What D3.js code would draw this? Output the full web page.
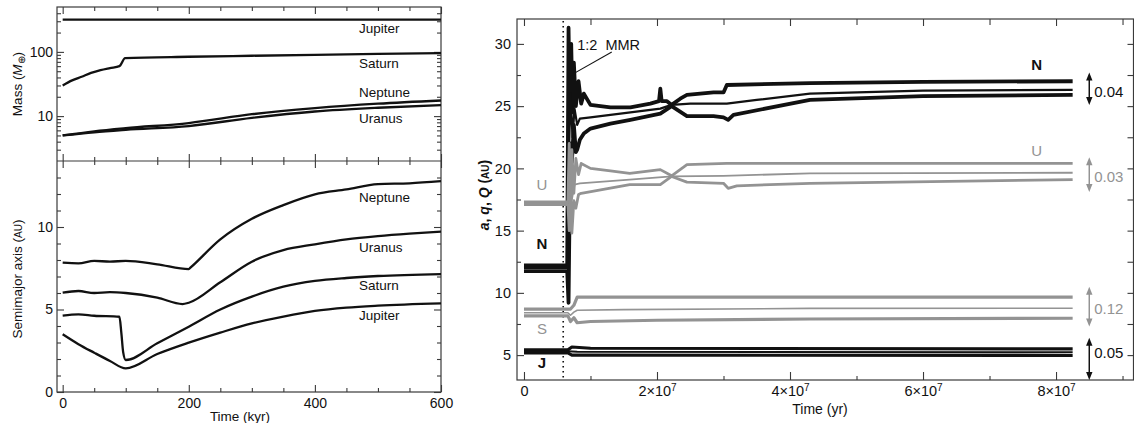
<!DOCTYPE html>
<html>
<head>
<meta charset="utf-8">
<script src="https://cdn.jsdelivr.net/npm/d3@7"></script>
<style>
  body { margin: 0; background: #fff; }
  svg { display: block; font-family: 'Liberation Sans', Arial, Helvetica, sans-serif; }
</style>
</head>
<body>
<svg id="fig" width="1134" height="423"></svg>
<script>
// ---------- left panels: time (kyr) ----------
// mass (Earth masses), log scale
const massJupiter = [[0, 318], [600, 318]];
const massSaturn = [[0, 30], [15, 36], [30, 41], [45, 47], [60, 52], [75, 56], [90, 60], [99, 80], [200, 84], [300, 87], [400, 90], [500, 93], [600, 96]];
const massNeptune = [[0, 5.0], [50, 5.8], [100, 6.5], [200, 7.8], [300, 10.7], [400, 13.3], [500, 15.6], [600, 17.5]];
const massUranus = [[0, 5.0], [50, 5.6], [100, 6.1], [200, 7.0], [300, 9.4], [400, 11.8], [500, 13.5], [600, 14.8]];

// semimajor axis (AU)
const semiNeptune = [[0, 7.84], [25, 7.8], [50, 7.95], [75, 7.9], [100, 7.95], [150, 7.74], [200, 7.45], [203, 7.55], [250, 9.25], [300, 10.5], [350, 11.33], [400, 11.98], [450, 12.28], [500, 12.6], [550, 12.65], [600, 12.78]];
const semiUranus = [[0, 6.02], [25, 6.12], [50, 6.0], [75, 6.05], [100, 6.0], [150, 5.72], [190, 5.33], [200, 5.41], [250, 6.65], [300, 7.9], [350, 8.6], [400, 8.95], [450, 9.25], [500, 9.45], [550, 9.6], [600, 9.72]];
const semiSaturn = [[0, 4.63], [25, 4.7], [50, 4.62], [90, 4.56], [93, 3.6], [96, 2.4], [100, 1.94], [150, 2.95], [200, 3.96], [250, 5.0], [300, 5.78], [350, 6.38], [400, 6.73], [450, 6.91], [500, 7.03], [600, 7.15]];
const semiJupiter = [[0, 3.5], [25, 2.9], [50, 2.38], [75, 1.88], [100, 1.43], [150, 2.3], [200, 2.99], [250, 3.6], [300, 4.16], [350, 4.57], [400, 4.91], [450, 5.11], [500, 5.23], [600, 5.37]];

const massLabels = [["Jupiter", 198], ["Saturn", 56], ["Neptune", 19.8], ["Uranus", 7.8]];
const semiLabels = [["Neptune", 11.53], ["Uranus", 8.5], ["Saturn", 6.18], ["Jupiter", 4.36]];

// ---------- right panel: time in units of 1e7 yr, a / q / Q (AU) ----------
const nQ = [[0, 12.2], [0.65, 12.2], [0.67, 31.3], [0.69, 24], [0.71, 30], [0.73, 24.5], [0.75, 28.5], [0.78, 25], [0.82, 27], [0.86, 25.2], [0.9, 26], [1.0, 25.1], [1.3, 24.9], [1.6, 24.9], [1.9, 25.2], [2.03, 25.4], [2.05, 26.4], [2.07, 25.4], [2.15, 25.4], [2.22, 25.1], [2.35, 25.6], [2.45, 25.9], [2.85, 26.1], [3.0, 26.1], [3.05, 26.7], [4.3, 26.85], [6.0, 26.95], [8.25, 27.0]];
const nA = [[0, 12.0], [0.65, 12.0], [0.67, 20], [0.7, 26], [0.73, 22.5], [0.76, 24.8], [0.8, 23.5], [0.84, 24.0], [1.0, 24.1], [1.6, 24.5], [2.05, 24.8], [2.22, 25.1], [2.5, 25.2], [3.05, 25.2], [3.5, 25.5], [4.3, 26.0], [6.0, 26.25], [8.25, 26.3]];
const nq = [[0, 11.75], [0.65, 11.75], [0.67, 9.2], [0.68, 14], [0.7, 22], [0.72, 20.5], [0.75, 23.5], [0.78, 21.3], [0.8, 21.5], [0.84, 22.3], [0.9, 22.8], [1.0, 23.2], [1.3, 23.6], [1.6, 23.9], [2.05, 24.4], [2.22, 25.0], [2.45, 24.2], [2.85, 24.2], [3.0, 24.1], [3.07, 23.9], [3.15, 24.3], [4.3, 25.5], [6.0, 25.8], [8.25, 25.9]];

const uQ = [[0, 17.3], [0.66, 17.3], [0.68, 22], [0.7, 16.5], [0.72, 21.5], [0.75, 18], [0.78, 20.8], [0.82, 19.5], [0.86, 20.4], [1.0, 20.0], [1.3, 19.8], [1.59, 19.6], [2.05, 19.9], [2.22, 19.4], [2.45, 20.3], [3.05, 20.4], [4.3, 20.4], [8.25, 20.4]];
const uA = [[0, 17.2], [0.66, 17.2], [0.69, 19.5], [0.72, 17.5], [0.76, 18.7], [0.84, 18.8], [1.59, 19.1], [2.22, 19.35], [3.0, 19.4], [4.3, 19.6], [8.25, 19.65]];
const uq = [[0, 17.1], [0.66, 17.1], [0.68, 15], [0.7, 18.5], [0.72, 14.8], [0.75, 17.4], [0.78, 16.8], [0.82, 17.9], [0.86, 18.0], [1.59, 18.7], [2.05, 18.7], [2.22, 19.35], [2.45, 18.9], [3.0, 18.8], [3.07, 18.4], [3.2, 18.6], [4.3, 18.8], [8.25, 19.1]];

const sQ = [[0, 8.7], [0.66, 8.7], [0.7, 8.7], [0.75, 9.0], [0.8, 9.65], [1.2, 9.65], [4.0, 9.65], [8.25, 9.65]];
const sA = [[0, 8.4], [0.66, 8.4], [0.7, 8.2], [0.75, 8.45], [0.8, 8.6], [1.5, 8.65], [4.3, 8.75], [8.25, 8.76]];
const sq = [[0, 8.15], [0.66, 8.15], [0.7, 7.7], [0.75, 8.0], [0.8, 7.6], [1.0, 7.7], [2.0, 7.8], [4.3, 7.9], [8.25, 7.96]];

const jQ = [[0, 5.42], [0.66, 5.42], [0.72, 5.65], [1.0, 5.55], [8.25, 5.5]];
const jA = [[0, 5.3], [0.66, 5.3], [0.8, 5.27], [8.25, 5.22]];
const jq = [[0, 5.18], [0.66, 5.18], [0.72, 5.0], [1.0, 5.0], [8.25, 4.97]];

const mmrTime = 0.59;
// eccentricity range arrows: [label, low, high, text centre, grey?]
const eccArrows = [["0.04", 25.1, 27.7, 26.2, false], ["0.03", 18.1, 20.9, 19.3, true], ["0.12", 7.3, 10.5, 8.7, true], ["0.05", 3.0, 6.4, 5.2, false]];
// planet letters: [text, t, value, grey?]
const planetLetters = [["N", 7.71, 27.9, false], ["U", 7.71, 21.0, true], ["U", 0.27, 18.3, true], ["N", 0.27, 13.5, false], ["S", 0.27, 6.7, true], ["J", 0.27, 4.0, false]];

const ink = "#111", grey = "#939393", frame = "#3a3a3a";
const svg = d3.select("#fig");
svg.append("rect").attr("width", 1134).attr("height", 423).attr("fill", "#fff");

function ticks(g, gen, scale, vals, len, fmt, pad, fs) {
  const a = gen(scale).tickValues(vals).tickSize(-len).tickPadding(pad || 3).tickFormat(fmt || (() => ""));
  g.call(a);
  g.select(".domain").remove();
  g.attr("font-family", null).attr("font-size", fs || 13);
  g.selectAll("line").attr("stroke", frame).attr("stroke-width", 1.1);
  g.selectAll("text").attr("fill", ink);
  return g;
}

// ================= left figure =================
const xL = d3.scaleLinear().domain([-9, 600]).range([57, 441]);
const yMass = d3.scaleLog().domain([2, 500]).range([161, 7]);
const ySemi = d3.scaleLinear().domain([0, 14]).range([392, 161]);

const left = svg.append("g");
const xMinor = d3.range(50, 600, 50).filter(d => d % 200 !== 0);
const xMajor = [0, 200, 400, 600];

[[7, d3.axisTop], [161, d3.axisBottom], [161, d3.axisTop], [392, d3.axisBottom]].forEach(([y, gen]) => {
  ticks(left.append("g").attr("transform", `translate(0,${y})`), gen, xL, xMinor, 4);
  ticks(left.append("g").attr("transform", `translate(0,${y})`), gen, xL, xMajor, 7);
});
ticks(left.append("g").attr("transform", "translate(0,392)"), d3.axisBottom, xL, xMajor, 0, d3.format("d"), 6, 14);

const massMinor = [3, 4, 5, 6, 7, 8, 9, 20, 30, 40, 50, 60, 70, 80, 90, 200, 300, 400];
const massMajor = [10, 100];
ticks(left.append("g").attr("transform", "translate(57,0)"), d3.axisLeft, yMass, massMinor, 4);
ticks(left.append("g").attr("transform", "translate(57,0)"), d3.axisLeft, yMass, massMajor, 7, d3.format("d"), 5, 14)
  .selectAll("text").attr("x", -4);
ticks(left.append("g").attr("transform", "translate(441,0)"), d3.axisRight, yMass, massMinor, 4);
ticks(left.append("g").attr("transform", "translate(441,0)"), d3.axisRight, yMass, massMajor, 7);

const semiMinor = d3.range(1, 14).filter(d => d % 5 !== 0);
const semiMajor = [0, 5, 10];
ticks(left.append("g").attr("transform", "translate(57,0)"), d3.axisLeft, ySemi, semiMinor, 4);
ticks(left.append("g").attr("transform", "translate(57,0)"), d3.axisLeft, ySemi, semiMajor, 7, d3.format("d"), 5, 14)
  .selectAll("text").attr("x", -4);
ticks(left.append("g").attr("transform", "translate(441,0)"), d3.axisRight, ySemi, semiMinor, 4);
ticks(left.append("g").attr("transform", "translate(441,0)"), d3.axisRight, ySemi, semiMajor, 7);

left.append("rect").attr("x", 57).attr("y", 7).attr("width", 384).attr("height", 385)
  .attr("fill", "none").attr("stroke", frame).attr("stroke-width", 1.2);
left.append("line").attr("x1", 57).attr("x2", 441).attr("y1", 161).attr("y2", 161)
  .attr("stroke", frame).attr("stroke-width", 1.2);

const lineMass = d3.line().x(d => xL(d[0])).y(d => yMass(d[1])).curve(d3.curveMonotoneX);
const lineSemi = d3.line().x(d => xL(d[0])).y(d => ySemi(d[1])).curve(d3.curveMonotoneX);
[massJupiter, massSaturn, massNeptune, massUranus].forEach(s =>
  left.append("path").attr("d", lineMass(s)).attr("fill", "none").attr("stroke", ink).attr("stroke-width", 2.3));
[semiNeptune, semiUranus, semiSaturn, semiJupiter].forEach(s =>
  left.append("path").attr("d", lineSemi(s)).attr("fill", "none").attr("stroke", ink).attr("stroke-width", 2.3));

left.selectAll(".ml").data(massLabels).join("text")
  .attr("x", xL(470)).attr("y", d => yMass(d[1])).attr("font-size", 13.5).attr("fill", ink).text(d => d[0]);
left.selectAll(".sl").data(semiLabels).join("text")
  .attr("x", xL(470)).attr("y", d => ySemi(d[1])).attr("font-size", 13.5).attr("fill", ink).text(d => d[0]);

const massTitle = left.append("text").attr("transform", "translate(22,84) rotate(-90)")
  .attr("text-anchor", "middle").attr("font-size", 13.5).attr("fill", ink);
massTitle.append("tspan").text("Mass (");
massTitle.append("tspan").attr("font-style", "italic").text("M");
massTitle.append("tspan").attr("font-size", 10).attr("dy", 3).text("⊕");
massTitle.append("tspan").attr("dy", -3).text(")");

const semiTitle = left.append("text").attr("transform", "translate(22,279) rotate(-90)")
  .attr("text-anchor", "middle").attr("font-size", 13.5).attr("fill", ink);
semiTitle.append("tspan").text("Semimajor axis (");
semiTitle.append("tspan").attr("font-size", 10).text("AU");
semiTitle.append("tspan").text(")");

left.append("text").attr("x", 240).attr("y", 421).attr("text-anchor", "middle")
  .attr("font-size", 13.5).attr("fill", ink).text("Time (kyr)");

// ================= right figure =================
const xR = d3.scaleLinear().domain([-0.105, 9.165]).range([517, 1133.5]);
const yR = d3.scaleLinear().domain([3, 32]).range([380, 19]);
const right = svg.append("g");

const tMinor = [1, 3, 5, 7, 9], tMajor = [0, 2, 4, 6, 8];
const aMinor = [7.5, 12.5, 17.5, 22.5, 27.5], aMajor = [5, 10, 15, 20, 25, 30];

ticks(right.append("g").attr("transform", "translate(0,19)"), d3.axisTop, xR, tMinor, 6);
ticks(right.append("g").attr("transform", "translate(0,19)"), d3.axisTop, xR, tMajor, 7);
ticks(right.append("g").attr("transform", "translate(0,380)"), d3.axisBottom, xR, tMinor, 4);
const xLab = ticks(right.append("g").attr("transform", "translate(0,380)"), d3.axisBottom, xR, tMajor, 8, d => d, 6, 14.5);
xLab.selectAll("text").each(function (d) {
  const t = d3.select(this).text(null);
  if (d === 0) { t.text("0"); return; }
  t.append("tspan").text(d + "×10");
  t.append("tspan").attr("font-size", 10).attr("dy", "-0.55em").text("7");
});

ticks(right.append("g").attr("transform", "translate(517,0)"), d3.axisLeft, yR, aMinor, 4);
ticks(right.append("g").attr("transform", "translate(517,0)"), d3.axisLeft, yR, aMajor, 7, d3.format("d"), 6, 14.5)
  .selectAll("text").attr("x", -6);
ticks(right.append("g").attr("transform", "translate(1133.5,0)"), d3.axisRight, yR, aMinor.concat(aMajor), 6);

right.append("rect").attr("x", 517).attr("y", 19).attr("width", 616.5).attr("height", 361)
  .attr("fill", "none").attr("stroke", frame).attr("stroke-width", 1.2);

right.append("line").attr("x1", xR(mmrTime)).attr("x2", xR(mmrTime)).attr("y1", 21).attr("y2", 379)
  .attr("stroke", ink).attr("stroke-width", 1.6).attr("stroke-dasharray", "1.4,3.6");

const lineR = d3.line().x(d => xR(d[0])).y(d => yR(d[1]));
function band(series, color, widths) {
  series.forEach((s, i) => right.append("path").attr("d", lineR(s)).attr("fill", "none")
    .attr("stroke", color).attr("stroke-width", widths[i]).attr("stroke-linejoin", "round"));
}
band([nQ, nq, nA], ink, [3.8, 3.8, 2.2]);
band([sQ, sq, sA], grey, [3.2, 3.2, 1.6]);
band([uQ, uq, uA], grey, [2.8, 2.8, 1.8]);
band([jQ, jq, jA], ink, [3.2, 3.2, 2]);

// 1:2 MMR annotation
right.append("line").attr("x1", xR(0.66)).attr("y1", yR(27.35)).attr("x2", xR(1.32)).attr("y2", yR(29.35))
  .attr("stroke", ink).attr("stroke-width", 1.1);
right.append("text").attr("x", xR(0.8)).attr("y", yR(29.5)).attr("font-size", 14.5).attr("fill", ink)
  .attr("xml:space", "preserve").text("1:2  MMR");

right.selectAll(".pl").data(planetLetters).join("text")
  .attr("x", d => xR(d[1])).attr("y", d => yR(d[2])).attr("text-anchor", "middle")
  .attr("font-size", 15).attr("font-weight", d => d[3] ? "normal" : "bold")
  .attr("fill", d => d[3] ? grey : ink).text(d => d[0]);

// eccentricity arrows
const arrowX = xR(8.5);
eccArrows.forEach(([lab, lo, hi, mid, isGrey]) => {
  const c = isGrey ? grey : ink;
  const y0 = yR(hi), y1 = yR(lo);
  right.append("line").attr("x1", arrowX).attr("x2", arrowX).attr("y1", y0 + 5).attr("y2", y1 - 5)
    .attr("stroke", c).attr("stroke-width", 1.5);
  right.append("path").attr("d", `M${arrowX},${y0}L${arrowX - 3.2},${y0 + 8}L${arrowX + 3.2},${y0 + 8}Z`).attr("fill", c);
  right.append("path").attr("d", `M${arrowX},${y1}L${arrowX - 3.2},${y1 - 8}L${arrowX + 3.2},${y1 - 8}Z`).attr("fill", c);
  right.append("text").attr("x", arrowX + 5).attr("y", yR(mid)).attr("dy", "0.36em")
    .attr("font-size", 15).attr("fill", c).text(lab);
});

const aTitle = right.append("text").attr("transform", "translate(489,195) rotate(-90)")
  .attr("text-anchor", "middle").attr("font-size", 14).attr("font-weight", "bold").attr("fill", ink);
aTitle.append("tspan").attr("font-style", "italic").text("a");
aTitle.append("tspan").text(", ");
aTitle.append("tspan").attr("font-style", "italic").text("q");
aTitle.append("tspan").text(", ");
aTitle.append("tspan").attr("font-style", "italic").text("Q");
aTitle.append("tspan").text(" (");
aTitle.append("tspan").attr("font-size", 10).text("AU");
aTitle.append("tspan").text(")");

right.append("text").attr("x", 820).attr("y", 414).attr("text-anchor", "middle")
  .attr("font-size", 14).attr("fill", ink).text("Time (yr)");
</script>
</body>
</html>
